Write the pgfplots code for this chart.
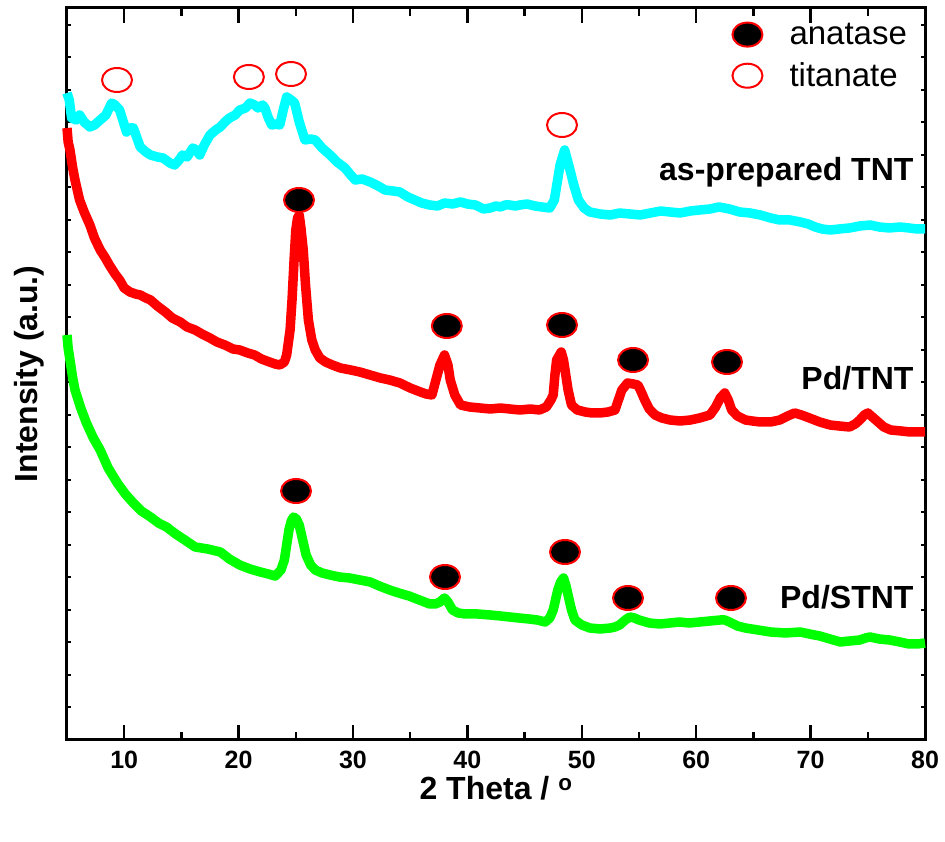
\documentclass[border=0pt]{standalone}
\usepackage{pgfplots}
\pgfplotsset{compat=1.18}
\usepackage{fontspec}
\setmainfont{Liberation Sans}
\definecolor{cy}{RGB}{0,255,255}
\definecolor{rd}{RGB}{255,0,0}
\definecolor{gr}{RGB}{0,255,0}
\pgfplotsset{common/.style={scale only axis, width=858pt, height=732pt,
  xmin=5, xmax=80, ymin=0, ymax=732, tick align=inside}}
\begin{document}
\begin{tikzpicture}
% axis A: frame, x tick labels and axis labels
\begin{axis}[
  common,
  axis line style={line width=3pt},
  xtick={10,20,...,80},
  major tick length=0pt,
  ytick=\empty,
  /pgf/number format/assume math mode=true,
  xticklabel style={font=\bfseries\fontsize{25}{30}\selectfont, yshift=-8pt},
  xlabel={\bfseries 2 Theta / \textsuperscript{o}},
  xlabel style={font=\fontsize{32}{36}\selectfont, at={(axis description cs:0.5,-0.045)}, anchor=north},
  ylabel={\bfseries Intensity (a.u.)},
  ylabel style={font=\fontsize{32}{36}\selectfont, at={(axis description cs:-0.022,0.5)}, anchor=south},
]
\end{axis}
% axis B: short y ticks
\begin{axis}[
  common,
  axis line style={draw=none},
  xtick=\empty,
  ytick={32.5,65,...,720},
  yticklabels={},
  major tick length=4pt,
  tick style={line width=2pt, black},
]
\end{axis}
% axis C: data
\begin{axis}[
  common,
  axis line style={draw=none},
  xtick=\empty, ytick=\empty,
  legend style={draw=none, fill=none, at={(0.985,0.985)}, anchor=north east,
    font=\fontsize{33}{38}\selectfont, row sep=13pt},
  legend cell align=left,
  legend image code/.code={\path (-0.2cm,0) (1.75cm,0); \draw[#1] plot coordinates {(0.35cm,0cm)};},
  clip=false,
]
\addplot[cy, line width=9.5pt, line join=round, forget plot] coordinates {
(5,647) (5.2,640) (5.4,622) (5.8,620) (6.1,625) (6.5,618) (7,613) (7.4,615) (7.9,620) (8.4,625) (8.9,637) (9.2,635) (9.6,630) (10.2,608) (10.5,612) (10.8,612) (11.4,593) (11.9,588) (12.3,585) (12.9,583) (13.4,582) (14,577) (14.4,575) (14.8,580) (15.1,585) (15.5,583) (16,592) (16.3,590) (16.6,585) (17,595) (17.5,605) (18,610) (18.4,613) (18.8,618) (19.2,622) (19.7,625) (20.1,630) (20.6,632) (21,637) (21.4,635) (21.7,632) (22.1,635) (22.3,632) (22.6,622) (22.9,615) (23.3,616) (23.6,615) (23.9,630) (24.2,643) (24.6,640) (24.9,637) (25.3,618) (25.8,600) (26.3,601) (26.7,600) (27.3,592) (28,585) (28.6,578) (29.3,572) (29.8,565) (30.2,560) (30.8,561) (31.5,558) (32.2,554) (32.8,550) (33.5,549) (34.1,548) (34.8,543) (35.4,540) (36,537) (36.7,535) (37.4,534) (38,537) (38.7,536) (39.4,538) (40,536) (40.7,535) (41.4,531) (42,532) (42.5,534) (42.9,533) (43.3,535) (43.7,535) (44.2,534) (44.6,535) (45.2,536) (45.9,534) (46.5,533) (47.2,532) (47.6,540) (48.1,575) (48.5,590) (48.97,570) (49.3,555) (49.7,540) (50.2,532) (50.7,528) (51.6,526) (52.5,525) (53.3,527) (54.2,526) (55.1,525) (56,527) (56.9,529) (57.7,528) (58.6,527) (59.5,529) (60.3,530) (61.2,531) (62,533) (62.9,531) (63.8,528) (64.7,527) (65.6,525) (66.5,522) (67.3,520) (68.2,520) (69.1,518) (69.8,516) (70.4,513) (71,511) (71.7,510) (72.5,511) (73.4,512) (74.3,514) (75.2,515) (76,513) (76.9,512) (77.8,513) (78.6,512) (79.3,511) (80,511)
};
\addplot[rd, line width=9.5pt, line join=round, forget plot] coordinates {
(5,612) (5.1,598) (5.26,590) (5.5,572) (5.7,560) (5.9,550) (6.1,540) (6.5,528) (7,515) (7.4,502) (7.9,490) (8.3,483) (8.7,475) (9.2,466) (9.6,460) (10,452) (10.5,448) (11,446) (11.4,445) (11.9,442) (12.3,440) (12.9,434) (13.6,428) (14.2,422) (14.9,418) (15.5,413) (16.2,410) (16.8,406) (17.5,402) (18.1,398) (18.8,395) (19.5,391) (20.1,390) (20.8,387) (21.4,385) (22,381) (22.7,378) (23.2,376) (23.6,375) (24,378) (24.2,385) (24.5,410) (24.67,440) (24.85,480) (25,510) (25.15,522) (25.3,525) (25.45,512) (25.65,490) (25.85,455) (26.1,420) (26.4,400) (26.7,390) (27.1,382) (27.6,378) (28.2,375) (28.9,372) (29.8,370) (30.6,368) (31.5,365) (32.4,362) (33.2,360) (34.1,357) (35,352) (35.9,348) (36.4,346) (36.9,345) (37.2,358) (37.6,375) (38,385) (38.3,375) (38.5,360) (38.9,345) (39.4,335) (40.2,333) (41.1,332) (42,331) (42.9,332) (43.7,331) (44.6,330) (45.5,331) (46.3,330) (46.9,333) (47.3,340) (47.5,345) (47.65,365) (47.8,380) (48.2,388) (48.4,380) (48.6,365) (48.8,350) (49.1,335) (49.6,330) (50.3,328) (50.9,327) (51.6,327) (52.3,328) (52.9,330) (53.2,340) (53.5,350) (54,357) (54.5,356) (54.9,355) (55.2,348) (55.5,340) (55.9,331) (56.4,325) (57,322) (57.7,320) (58.6,319) (59.5,320) (60.3,322) (61.2,325) (61.7,333) (62.1,342) (62.5,347) (62.8,340) (63.1,330) (63.6,324) (64.3,320) (64.9,319) (65.6,318) (66.5,318) (67.3,320) (68,324) (68.6,327) (69.2,325) (69.9,322) (70.8,318) (71.7,315) (72.5,314) (73.4,313) (73.9,316) (74.3,320) (74.7,325) (75,327) (75.4,323) (75.9,318) (76.4,313) (77,310) (77.9,309) (78.7,308) (79.4,308) (80,308)
};
\addplot[gr, line width=9.5pt, line join=round, forget plot] coordinates {
(5,405) (5.1,392) (5.26,380) (5.5,362) (5.7,350) (6.2,332) (6.7,317) (7.3,302) (7.9,290) (8.6,272) (9.4,257) (10.1,246) (10.8,237) (11.5,229) (12.3,223) (13,217) (13.7,213) (14.5,206) (15.3,200) (16.2,193) (17.3,191) (18.4,188) (19.2,181) (20.1,175) (21,171) (21.9,168) (22.6,166) (23.2,164) (23.7,170) (24,180) (24.2,195) (24.4,210) (24.6,219) (24.8,223) (25.05,221) (25.3,215) (25.6,200) (25.9,185) (26.3,175) (26.7,170) (27.3,167) (28,165) (28.8,163) (29.7,162) (30.6,160) (31.5,158) (32.3,154) (33.2,150) (34,147) (34.9,144) (35.8,140) (36.7,136) (37.2,136) (37.6,138) (38,142) (38.3,138) (38.7,130) (39.2,127) (39.8,126) (40.9,126) (42,125) (42.9,124) (43.7,123) (44.5,122) (45.4,121) (46.1,120) (46.8,118) (47.2,122) (47.5,130) (47.7,140) (47.9,150) (48.15,158) (48.4,162) (48.6,155) (48.8,145) (49.1,130) (49.4,120) (50,115) (50.7,112) (51.6,111) (52.5,112) (52.9,113) (53.3,115) (53.8,120) (54.2,123) (54.6,122) (55,120) (55.9,117) (56.8,116) (57.7,117) (58.5,118) (59.4,117) (60.3,118) (61.2,119) (62.1,120) (62.5,120) (62.9,118) (63.6,114) (64.3,112) (65.4,110) (66.5,108) (67.8,107) (69.1,108) (69.9,106) (70.8,104) (71.7,101) (72.6,98) (73.4,99) (74.3,100) (74.8,102) (75.2,103) (76,101) (76.9,100) (77.8,98) (78.6,96) (79.3,96) (80,97)
};
\addplot[only marks, mark=*, mark size=12pt, mark options={xscale=1.25, fill=black, draw=rd, line width=2pt}] coordinates {
(25.28,540) (38.2,414) (48.27,415) (54.48,380) (62.69,378)
(25.02,249) (38.04,163) (48.53,188) (54.04,142) (63.04,142)
};
\addlegendentry{anatase}
\addplot[only marks, mark=o, mark size=12pt, mark options={xscale=1.25, draw=rd, line width=2pt}] coordinates {
(9.37,660) (20.9,663) (24.58,666) (48.27,615)
};
\addlegendentry{titanate}
\node[anchor=east, font=\bfseries\fontsize{32}{36}\selectfont] at (axis cs:79.3,568) {as-prepared TNT};
\node[anchor=east, font=\bfseries\fontsize{32}{36}\selectfont] at (axis cs:79.3,362) {Pd/TNT};
\node[anchor=east, font=\bfseries\fontsize{32}{36}\selectfont] at (axis cs:79.3,143) {Pd/STNT};
\end{axis}
% x tick marks (major every 10, minor every 5), bottom and top, pointing inward
\foreach \x in {10,20,...,80} {
  \draw[line width=2.5pt] ([xshift={(\x-5)*11.44pt}]current axis.south west) -- ++(0,15pt);
  \draw[line width=2.5pt] ([xshift={(\x-5)*11.44pt}]current axis.north west) -- ++(0,-15pt);
}
\foreach \x in {15,25,...,75} {
  \draw[line width=2.5pt] ([xshift={(\x-5)*11.44pt}]current axis.south west) -- ++(0,8pt);
  \draw[line width=2.5pt] ([xshift={(\x-5)*11.44pt}]current axis.north west) -- ++(0,-8pt);
}
\path ([shift={(-67pt,-102pt)}]current axis.south west) rectangle ([shift={(20pt,8pt)}]current axis.north east);
\end{tikzpicture}
\end{document}
